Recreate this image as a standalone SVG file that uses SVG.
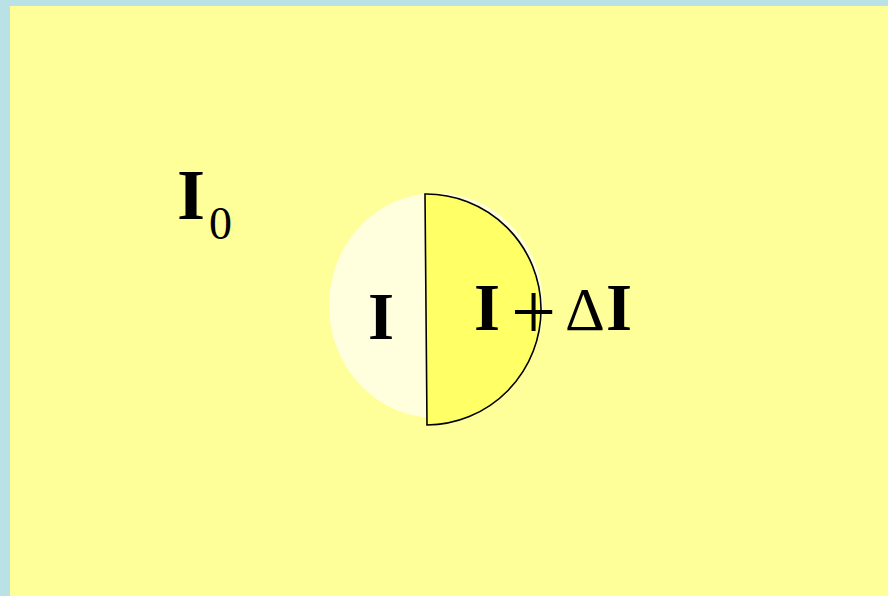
<svg xmlns="http://www.w3.org/2000/svg" width="888" height="596" viewBox="0 0 888 596">
<style>
.b{font-family:"Liberation Serif","Times New Roman",serif;font-weight:bold;fill:#000}
.r{font-family:"Liberation Serif","Times New Roman",serif;font-weight:normal;fill:#000}
</style>
<rect x="0" y="0" width="888" height="596" fill="#B9E1E6"/>
<rect x="10" y="6" width="878" height="590" fill="#FFFF99"/>
<g id="pale-circle">
<ellipse cx="436" cy="305.5" rx="107" ry="112.5" fill="#FFFFDD"/>
</g>
<g id="half-disc">
<path d="M425,194 A115,115.5 0 0 1 427,425 Z" fill="#FFFF66" stroke="#000" stroke-width="1.6"/>
</g>
<g id="label-I0">
<text class="b" x="177" y="219" font-size="72">I</text>
<text class="r" x="209" y="239" font-size="46">0</text>
</g>
<g id="label-I">
<text class="b" x="381" y="339" font-size="67" text-anchor="middle">I</text>
</g>
<g id="label-IdI">
<text class="b" x="474" y="330" font-size="67">I</text>
<text class="r" x="511" y="339" font-size="80">+</text>
<text class="r" x="565" y="330" font-size="62">Δ</text>
<text class="b" x="606" y="330" font-size="67">I</text>
</g>
</svg>
